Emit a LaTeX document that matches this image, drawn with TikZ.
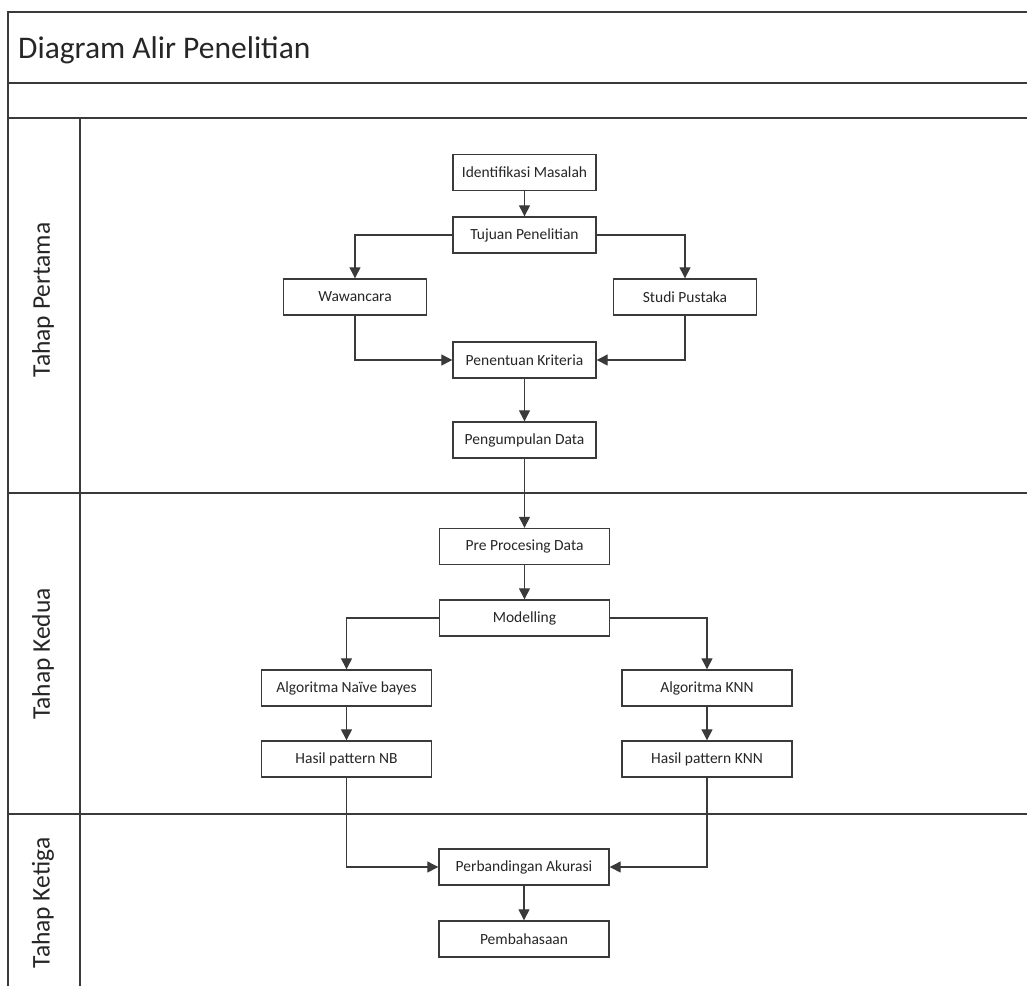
\documentclass[tikz,border=0pt]{standalone}
\usepackage{fontspec}
\setmainfont{Carlito}
\usetikzlibrary{arrows.meta}
\definecolor{linec}{HTML}{3A3A3A}
\definecolor{textc}{HTML}{262626}
\tikzset{
  box/.style={draw=linec, line width=1.4pt, fill=white, inner sep=0pt,
    minimum height=36pt, text=textc, font=\fontsize{15.5}{17}\selectfont},
  boxA/.style={box, minimum width=143pt},
  boxB/.style={box, minimum width=170pt},
  conn/.style={draw=linec, line width=1.3pt, -{Triangle[length=11pt,width=11pt]}},
  frame/.style={draw=linec, line width=2pt},
  lanelabel/.style={rotate=90, text=textc, font=\fontsize{25.5}{29}\selectfont}
}
\begin{document}
\begin{tikzpicture}[x=1pt,y=-1pt]
\useasboundingbox (0,0) rectangle (1027,985);
\begin{scope}
\clip (0,0) rectangle (1027,985);
\fill[white] (0,0) rectangle (1027,985);
% frame
\draw[frame] (1040,12) -- (8,12) -- (8,1000);
\draw[frame] (8,83) -- (1040,83);
\draw[frame] (8,118) -- (1040,118);
\draw[frame] (80,118) -- (80,1000);
\draw[frame] (8,493) -- (1040,493);
\draw[frame] (8,814) -- (1040,814);
\end{scope}
\node[anchor=base west, text=textc, font=\fontsize{31.5}{36}\selectfont, inner sep=0pt] (title) at (18,58) {Diagram Alir Penelitian};
\node[lanelabel] (lane1) at (43,300) {Tahap Pertama};
\node[lanelabel] (lane2) at (43,654) {Tahap Kedua};
\node[lanelabel] (lane3) at (43,903) {Tahap Ketiga};
% nodes
\node[boxA] (ident) at (524.5,172.5) {Identifikasi Masalah};
\node[boxA] (tujuan) at (524.5,235) {Tujuan Penelitian};
\node[boxA] (waw) at (355,297) {Wawancara};
\node[boxA] (studi) at (685,297) {Studi Pustaka};
\node[boxA] (krit) at (524.5,360) {Penentuan Kriteria};
\node[boxA] (kump) at (524.5,440) {Pengumpulan Data};
\node[boxB] (pre) at (524.5,546.5) {Pre Procesing Data};
\node[boxB] (model) at (524.5,618) {Modelling};
\node[boxB] (nb) at (346.5,688) {Algoritma Naïve bayes};
\node[boxB] (knn) at (707,688) {Algoritma KNN};
\node[boxB] (hnb) at (346.5,759) {Hasil pattern NB};
\node[boxB] (hknn) at (707,759) {Hasil pattern KNN};
\node[boxB] (perb) at (524,867) {Perbandingan Akurasi};
\node[boxB] (bahas) at (524,939) {Pembahasaan};
% connectors
\draw[conn] (ident) -- (tujuan);
\draw[conn] (tujuan.west) -| (waw.north);
\draw[conn] (tujuan.east) -| (studi.north);
\draw[conn] (waw.south) |- (krit.west);
\draw[conn] (studi.south) |- (krit.east);
\draw[conn] (krit) -- (kump);
\draw[conn] (kump) -- (pre);
\draw[conn] (pre) -- (model);
\draw[conn] (model.west) -| (nb.north);
\draw[conn] (model.east) -| (knn.north);
\draw[conn] (nb) -- (hnb);
\draw[conn] (knn) -- (hknn);
\draw[conn] (hnb.south) |- (perb.west);
\draw[conn] (hknn.south) |- (perb.east);
\draw[conn] (perb) -- (bahas);
\end{tikzpicture}
\end{document}
